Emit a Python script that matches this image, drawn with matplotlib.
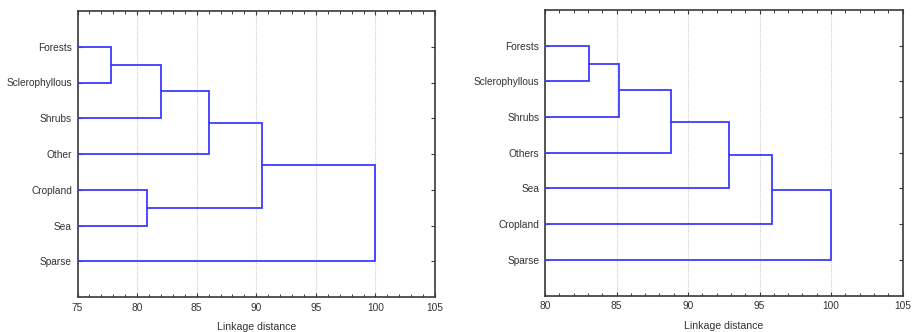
import matplotlib
matplotlib.use("Agg")
import matplotlib.pyplot as plt
from matplotlib.ticker import MultipleLocator

plt.rcParams['font.family'] = ['Liberation Sans', 'DejaVu Sans']

# ---- data ----
left_labels = ["Forests", "Sclerophyllous", "Shrubs", "Other", "Cropland", "Sea", "Sparse"]
# merges: (child a, child b, linkage distance); leaves 0..6, new clusters 7, 8, ...
left_links = [(0, 1, 77.8), (7, 2, 82.0), (8, 3, 86.0), (4, 5, 80.8), (9, 10, 90.5), (11, 6, 100.0)]
left_xticks = [75, 80, 85, 90, 95, 100, 105]

right_labels = ["Forests", "Sclerophyllous", "Shrubs", "Others", "Sea", "Cropland", "Sparse"]
right_links = [(0, 1, 83.1), (7, 2, 85.2), (8, 3, 88.8), (9, 4, 92.9), (10, 5, 95.9), (11, 6, 100.0)]
right_xticks = [80, 85, 90, 95, 100, 105]

LINE = '#3b3bff'
SPINE = '#3a3a3a'
TXT = '#333333'
W, H = 914, 332

fig = plt.figure(figsize=(W / 100, H / 100), dpi=100)


def draw(rect, labels, links, xticks):
    ax = fig.add_axes(rect)
    n = len(labels)
    nodes = {i: (i + 1, 0.0) for i in range(n)}  # id -> (y, height)
    nid = n
    for a, b, d in links:
        ya, ha = nodes[a]
        yb, hb = nodes[b]
        ax.plot([ha, d, d, hb], [ya, ya, yb, yb], color=LINE, lw=1.3,
                solid_joinstyle='miter', zorder=3)
        nodes[nid] = ((ya + yb) / 2, d)
        nid += 1
    ax.set_xlim(xticks[0], xticks[-1])
    ax.set_ylim(n + 1, 0)
    ax.set_xticks(xticks)
    ax.xaxis.set_minor_locator(MultipleLocator(1))
    ax.set_yticks(range(1, n + 1))
    ax.set_yticklabels(labels)
    ax.tick_params(axis='both', which='major', direction='in', length=3, width=0.8,
                   colors=SPINE, labelcolor=TXT, labelsize=7.3, top=True, right=True, pad=4)
    ax.tick_params(axis='x', which='minor', direction='in', length=2, width=0.7,
                   colors=SPINE, top=True)
    ax.grid(axis='x', which='major', color='#cfcfcf', lw=0.8, ls=(0, (1, 1)), zorder=1)
    for s in ax.spines.values():
        s.set_color(SPINE)
        s.set_linewidth(1.2)
    ax.set_xlabel("Linkage distance", fontsize=7.6, color=TXT, labelpad=7)
    return ax


draw([77.5 / W, 1 - 297 / H, (435 - 77.5) / W, (297 - 11) / H], left_labels, left_links, left_xticks)
draw([545 / W, 1 - 295.5 / H, (902.5 - 545) / W, (295.5 - 10) / H], right_labels, right_links, right_xticks)

fig.savefig("out.png", dpi=100, facecolor='white')
